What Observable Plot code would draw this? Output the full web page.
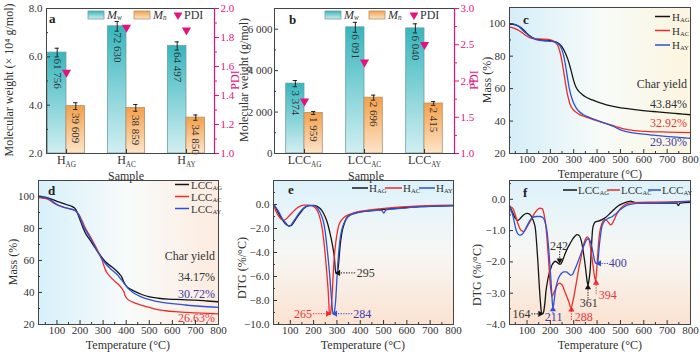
<!DOCTYPE html>
<html><head><meta charset="utf-8">
<script src="https://cdn.jsdelivr.net/npm/d3@7"></script>
<script src="https://cdn.jsdelivr.net/npm/@observablehq/plot@0.6"></script>
<style>
html,body{margin:0;padding:0;background:#fff;}
#wrap{position:relative;width:700px;height:352px;overflow:hidden;background:#fff;font-family:"Liberation Serif","Times New Roman",serif;}
#wrap > svg{position:absolute;overflow:visible;}
</style></head>
<body>
<svg width="0" height="0" style="position:absolute;left:0;top:0" aria-hidden="true"><defs>
<linearGradient id="gMw" x1="0" y1="0" x2="0" y2="1"><stop offset="0" stop-color="#36b6be"/><stop offset="1" stop-color="#d2eff2"/></linearGradient>
<linearGradient id="gMn" x1="0" y1="0" x2="0" y2="1"><stop offset="0" stop-color="#f4a048"/><stop offset="1" stop-color="#fde5ca"/></linearGradient>
<linearGradient id="bgC" x1="0" y1="0" x2="1" y2="0"><stop offset="0" stop-color="#d5eef9"/><stop offset="0.5" stop-color="#f7fbf8"/><stop offset="1" stop-color="#fcf5df"/></linearGradient>
<linearGradient id="bgD" x1="0" y1="0" x2="1" y2="0"><stop offset="0" stop-color="#d7f0fa"/><stop offset="0.5" stop-color="#f8fbfa"/><stop offset="1" stop-color="#fdebdf"/></linearGradient>
<linearGradient id="bgV" x1="0" y1="0" x2="0" y2="1"><stop offset="0" stop-color="#dcf2fb"/><stop offset="0.5" stop-color="#f7f7f4"/><stop offset="1" stop-color="#fbe2d1"/></linearGradient>
</defs></svg>
<div id="wrap"></div>
<script>
// ---------- DATA ----------
// Panel a
const samplesA = ["H_AG", "H_AC", "H_AY"];
const mwA = [6.1756, 7.2630, 6.4497];
const mnA = [3.9609, 3.8859, 3.4850];
const mwErrA = [0.18, 0.2, 0.17];
const mnErrA = [0.14, 0.14, 0.11];
const pdiA = [1.559, 1.869, 1.851];
const mwLabA = ["61 756", "72 630", "64 497"];
const mnLabA = ["39 609", "38 859", "34 850"];
// Panel b
const samplesB = ["LCC_AG", "LCC_AC", "LCC_AY"];
const mwB = [3374, 6091, 6040];
const mnB = [1959, 2696, 2415];
const mwErrB = [150, 240, 220];
const mnErrB = [70, 120, 90];
const pdiB = [1.722, 2.259, 2.501];
const mwLabB = ["3 374", "6 091", "6 040"];
const mnLabB = ["1 959", "2 696", "2 415"];
// Panel c (TG, H)
const tC_HAG = [25,40,64,90,107,136,170,207,236,250,264,275,286,300,310,320,335,350,380,407,440,479,530,579,640,693,750,800];
const mC_HAG = [99.8,99.6,98.5,95.5,93.0,90.6,90.0,89.4,87.8,85.8,82.0,78.0,72.6,64.8,60.8,58.6,56.6,55.0,53.0,51.5,50.0,48.8,47.6,46.7,45.9,45.2,44.5,43.9];
const tC_HAC = [25,40,60,79,100,121,150,193,221,235,243,250,257,264,271,279,286,296,307,325,350,390,436,480,520,560,607,700,800];
const mC_HAC = [97.9,97.5,96.2,94.5,92.3,91.0,90.6,90.4,88.6,85.5,81.5,76.5,70.5,64.0,58.0,53.0,49.8,47.3,45.7,44.0,42.6,40.6,38.6,36.6,35.0,34.1,33.6,33.2,32.9];
const tC_HAY = [25,45,64,85,107,136,170,207,236,248,258,267,274,281,290,300,310,321,340,364,400,436,470,500,540,579,640,693,750,800];
const mC_HAY = [100,99.8,98.5,95.5,92.8,90.3,89.5,89.1,87.3,84.5,79.5,72.5,66.0,60.2,55.0,51.0,48.3,46.2,44.0,42.4,40.5,38.6,36.7,34.6,33.0,32.2,31.3,30.6,30.0,29.4];
// Panel d (TG, LCC)
const tD_AG = [20,40,64,90,107,140,165,182,192,201,212,223,240,252,280,309,330,345,360,374,382,389,396,403,420,439,470,497,540,583,640,699,750,800];
const mD_AG = [100.2,99.8,99.0,97.6,96.6,95.0,93.8,91.8,88.5,85.0,80.8,77.2,73.5,70.9,64.8,59.4,56.8,55.2,53.3,51.0,49.3,46.8,45.0,43.7,42.0,40.5,38.6,37.4,36.4,35.9,35.6,35.2,34.7,34.2];
const tD_AC = [20,40,64,80,100,136,179,194,210,223,240,252,265,280,295,302,312,324,340,352,370,381,390,396,405,425,445,468,497,526,570,612,700,800];
const mD_AC = [99.3,98.9,98.1,96.5,94.8,93.0,91.2,89.0,84.5,80.3,76.0,73.0,69.5,65.2,60.5,57.3,53.5,51.0,48.5,46.8,44.5,42.6,40.5,37.8,36.0,34.2,33.0,32.0,30.8,29.6,28.6,28.0,27.3,26.7];
const tD_AY = [20,40,64,80,100,136,179,197,210,223,240,252,280,300,309,338,360,374,386,396,410,425,450,482,520,555,600,656,720,800];
const mD_AY = [100,99.5,98.7,97.0,95.0,93.0,91.3,87.6,83.0,79.3,75.2,72.0,64.6,60.0,58.3,54.1,51.3,48.9,46.8,44.7,42.3,40.5,38.3,36.3,34.8,33.8,33.0,32.2,31.4,30.7];
// Panel e (DTG, H)
const tE_HAG = [28,40,50,65,79,93,104,114,128,143,160,179,200,215,229,240,250,261,271,280,289,295,301,307,312,317,323,329,340,357,380,414,460,514,580,657,730,800];
const dE_HAG = [0.0,-0.35,-0.75,-1.25,-1.6,-1.8,-1.75,-1.5,-1.1,-0.7,-0.3,-0.1,-0.08,-0.15,-0.35,-0.65,-1.05,-1.65,-2.45,-3.3,-4.4,-5.7,-5.7,-5.0,-3.8,-2.9,-2.2,-1.75,-1.2,-0.88,-0.7,-0.58,-0.48,-0.38,-0.27,-0.18,-0.13,-0.1];
const tE_HAC = [28,35,43,55,64,72,79,90,100,115,129,145,160,180,193,205,214,222,229,236,243,249,254,259,263,266,268,271,274,278,283,288,293,300,307,318,329,350,371,405,443,480,514,580,657,730,800];
const dE_HAC = [-0.05,-0.4,-0.75,-1.1,-1.25,-1.3,-1.25,-1.05,-0.85,-0.55,-0.3,-0.12,-0.05,-0.05,-0.1,-0.25,-0.45,-0.8,-1.26,-1.9,-2.9,-4.0,-5.1,-6.3,-7.3,-8.5,-9.15,-9.15,-8.9,-8.0,-6.2,-4.6,-3.5,-2.5,-1.8,-1.35,-1.1,-0.85,-0.7,-0.55,-0.44,-0.36,-0.3,-0.2,-0.12,-0.08,-0.06];
const tE_HAY = [28,40,50,65,79,93,104,114,128,143,160,179,200,212,221,232,243,250,257,263,269,274,279,283,287,291,295,300,305,310,315,321,332,343,360,386,420,460,486,495,501,506,514,550,586,650,720,800];
const dE_HAY = [0.0,-0.3,-0.6,-1.15,-1.5,-1.78,-1.7,-1.4,-1.0,-0.6,-0.25,-0.1,-0.1,-0.2,-0.44,-0.85,-1.5,-2.3,-3.5,-4.6,-5.9,-7.2,-8.4,-9.1,-9.1,-8.7,-7.9,-6.2,-4.6,-3.5,-2.7,-2.1,-1.5,-1.1,-0.85,-0.7,-0.58,-0.5,-0.46,-0.55,-0.72,-0.55,-0.42,-0.36,-0.3,-0.2,-0.14,-0.1];
// Panel f (DTG, LCC)
const tF_AG = [25,36,50,60,70,85,100,112,121,130,136,142,147,152,157,162,166,171,176,181,187,193,200,207,214,221,230,238,244,250,260,271,282,293,305,314,322,329,336,343,349,354,358,361,365,371,376,381,387,393,405,421,436,450,465,479,497,514,530,543,560,579,620,680,740,748,755,800];
const dF_AG = [-0.2,-0.38,-0.6,-0.68,-0.62,-0.5,-0.45,-0.48,-0.58,-0.75,-0.95,-1.5,-2.05,-2.7,-3.25,-3.62,-3.66,-3.6,-3.35,-2.95,-2.65,-2.42,-2.25,-2.1,-2.02,-1.98,-2.02,-2.07,-2.07,-2.0,-1.8,-1.6,-1.45,-1.3,-1.18,-1.13,-1.15,-1.24,-1.45,-1.78,-2.1,-2.42,-2.65,-2.74,-2.6,-2.2,-1.5,-0.95,-0.78,-0.72,-0.7,-0.65,-0.58,-0.49,-0.38,-0.28,-0.18,-0.12,-0.08,-0.06,-0.1,-0.12,-0.12,-0.12,-0.12,-0.2,-0.12,-0.1];
const tF_AC = [25,32,40,50,62,75,86,100,114,128,142,155,165,172,180,186,192,198,203,207,214,221,229,238,245,252,262,271,280,286,290,295,301,307,315,322,329,338,345,352,359,366,372,378,384,390,394,398,403,408,414,422,430,440,450,458,465,475,486,500,518,536,580,650,720,800];
const dF_AC = [-0.45,-0.25,-0.3,-0.5,-0.8,-1.0,-1.03,-0.88,-0.7,-0.5,-0.35,-0.28,-0.3,-0.45,-0.8,-1.3,-1.9,-2.6,-2.95,-3.1,-3.0,-2.88,-2.75,-2.68,-2.7,-2.76,-2.95,-3.12,-3.3,-3.44,-3.45,-3.3,-3.1,-2.85,-2.5,-2.2,-1.95,-1.6,-1.38,-1.25,-1.2,-1.3,-1.55,-1.85,-2.2,-2.5,-2.6,-2.3,-1.75,-1.25,-0.95,-0.75,-0.65,-0.67,-0.75,-0.82,-0.78,-0.62,-0.45,-0.3,-0.18,-0.12,-0.1,-0.09,-0.08,-0.06];
const tF_AY = [25,32,42,52,60,70,79,90,100,112,125,140,155,168,178,186,193,200,205,209,212,216,221,228,236,246,257,268,279,288,295,301,307,318,329,340,350,358,364,370,376,383,390,396,402,406,410,414,420,429,445,464,482,500,518,536,570,650,720,800];
const dF_AY = [-0.25,-0.35,-0.6,-0.95,-1.1,-1.15,-1.12,-1.0,-0.85,-0.68,-0.58,-0.55,-0.55,-0.58,-0.75,-1.05,-1.6,-2.3,-2.9,-3.35,-3.45,-3.25,-2.95,-2.68,-2.5,-2.38,-2.32,-2.32,-2.38,-2.43,-2.4,-2.3,-2.2,-2.0,-1.78,-1.55,-1.36,-1.27,-1.26,-1.33,-1.47,-1.72,-1.98,-2.05,-2.06,-1.8,-1.45,-1.2,-0.9,-0.72,-0.62,-0.56,-0.45,-0.33,-0.23,-0.17,-0.13,-0.12,-0.1,-0.07];
// tick values
const tempMajor = [100,200,300,400,500,600,700,800];
const tempMinor = [50,150,250,350,450,550,650,750];

// ---------- STYLE ----------
const pink = "#e5127d";
const cBlack = "#151515", cRed = "#ee2b2b", cBlue = "#2d52d2";
const tBlack = "#333333", tRed = "#e8333a", tBlue = "#3a3ca8";
const axisGray = "#444";
const wrap = document.getElementById("wrap");

function base(w, h, m) {
  return {width: w, height: h, marginLeft: m[0], marginRight: m[1], marginTop: m[2], marginBottom: m[3],
    style: {background: "none", overflow: "visible", fontFamily: "'Liberation Serif', serif", fontSize: "11px", color: "#333"}};
}
function subify(root) {
  root.querySelectorAll("text").forEach(t => {
    if (t.children.length) return;
    const s = t.textContent;
    if (!s.includes("_")) return;
    const [a, b] = s.split("_");
    t.textContent = a;
    const ts = document.createElementNS("http://www.w3.org/2000/svg", "tspan");
    ts.setAttribute("font-size", "0.6em");
    ts.setAttribute("dy", "0.35em");
    ts.textContent = b;
    t.appendChild(ts);
  });
}
function place(svg, left, top) {
  svg.style.left = left + "px";
  svg.style.top = top + "px";
  wrap.appendChild(svg);
}

function barPanel(c) {
  const rows = c.samples.map((s, i) => ({i, s, mw: c.mw[i], mn: c.mn[i], mwE: c.mwErr[i], mnE: c.mnErr[i], pdi: c.pdi[i], mwL: c.mwLab[i], mnL: c.mnLab[i]}));
  const [y0, y1] = c.yDomain, [p0, p1] = c.pDomain;
  const mapP = p => y0 + (p - p0) / (p1 - p0) * (y1 - y0);
  const unmapP = y => p0 + (y - y0) / (y1 - y0) * (p1 - p0);
  const bw = c.bw, off = bw / 2, cap = 0.035;
  const errMarks = (key, eKey, dx) => [
    Plot.ruleX(rows, {x: d => d.i + dx, y1: d => d[key] - d[eKey], y2: d => d[key] + d[eKey], stroke: "#222", strokeWidth: 1}),
    Plot.ruleY(rows, {y: d => d[key] + d[eKey], x1: d => d.i + dx - cap, x2: d => d.i + dx + cap, stroke: "#222", strokeWidth: 1}),
    Plot.ruleY(rows, {y: d => d[key] - d[eKey], x1: d => d.i + dx - cap, x2: d => d.i + dx + cap, stroke: "#222", strokeWidth: 1})
  ];
  return Plot.plot({
    ...base(c.w, c.h, c.m),
    x: {domain: c.xDomain},
    y: {domain: c.yDomain},
    marks: [
      Plot.rect(rows, {x1: d => d.i - bw, x2: d => d.i, y1: d => y0, y2: "mw", fill: "url(#gMw)", stroke: "#6f9fa3", strokeWidth: 0.8}),
      Plot.rect(rows, {x1: d => d.i, x2: d => d.i + bw, y1: d => y0, y2: "mn", fill: "url(#gMn)", stroke: "#b5916f", strokeWidth: 0.8}),
      Plot.text(rows, {x: d => d.i - off, y: "mw", text: "mwL", rotate: 90, textAnchor: "start", dy: c.lblDy[0], fontSize: 11, fill: "#333"}),
      Plot.text(rows, {x: d => d.i + off, y: "mn", text: "mnL", rotate: 90, textAnchor: "start", dy: c.lblDy[1], fontSize: 11, fill: "#333"}),
      ...errMarks("mw", "mwE", -off),
      ...errMarks("mn", "mnE", off),
      Plot.dot(rows, {x: "i", y: d => mapP(d.pdi), symbol: "triangle", rotate: 180, r: 3.4, fill: pink, stroke: "none"}),
      Plot.axisX([0, 1, 2], {anchor: "bottom", tickSize: -4, tickPadding: 6, tickFormat: d => c.samples[d], label: null, fontSize: 12, color: "#333"}),
      Plot.axisY(c.yMajor, {anchor: "left", tickSize: -4, tickPadding: c.yPad, tickFormat: c.yFmt, label: null, fontSize: 11, color: "#333"}),
      Plot.axisY(c.yMinor, {anchor: "left", tickSize: -2, tickFormat: () => "", label: null, color: "#333"}),
      Plot.axisY(c.pMajor.map(mapP), {anchor: "right", tickSize: 4, tickPadding: 2, tickFormat: y => unmapP(y).toFixed(1), label: null, fontSize: 11, color: pink}),
      Plot.axisY(c.pMinor.map(mapP), {anchor: "right", tickSize: 2, tickFormat: () => "", label: null, color: pink}),
      Plot.frame({stroke: axisGray}),
      Plot.ruleX([c.xDomain[1]], {stroke: pink, strokeWidth: 1.2})
    ]
  });
}

function linePanel(c) {
  const texts = c.texts || [], arrows = c.arrows || [];
  return Plot.plot({
    ...base(c.w, c.h, c.m),
    x: {domain: c.xDomain},
    y: {domain: c.yDomain},
    color: {type: "identity"},
    marks: [
      Plot.frame({fill: `url(#${c.bg})`, stroke: "none"}),
      ...c.series.map(s => Plot.line(s.t.map((t, i) => ({t, v: s.v[i]})), {x: "t", y: "v", stroke: s.color, strokeWidth: 1.3, curve: "monotone-x"})),
      Plot.link(arrows, {x1: "x1", y1: "y1", x2: "x2", y2: "y2", stroke: "color", strokeWidth: 1, strokeDasharray: "1.3,1.3"}),
      Plot.dot(arrows, {x: "x2", y: "y2", symbol: "triangle", rotate: "rot", r: 2.3, fill: "color", stroke: "none"}),
      ...["start", "middle", "end"].map(a => Plot.text(texts.filter(d => d.anchor === a), {x: "x", y: "y", text: "text", fill: "color", textAnchor: a, fontSize: 12})),
      Plot.axisX(tempMajor, {anchor: "bottom", tickSize: -4, tickPadding: 6, tickFormat: d => String(d), label: null, fontSize: 11, color: "#333"}),
      Plot.axisX(tempMinor, {anchor: "bottom", tickSize: -2, tickFormat: () => "", label: null, color: "#333"}),
      Plot.axisY(c.yMajor, {anchor: "left", tickSize: -4, tickPadding: 8, tickFormat: c.yFmt, label: null, fontSize: 11, color: "#333"}),
      Plot.axisY(c.yMinor, {anchor: "left", tickSize: -2, tickFormat: () => "", label: null, color: "#333"}),
      Plot.frame({stroke: axisGray})
    ]
  });
}

const fmt1 = d => d.toFixed(1);
const fmtK = d => d === 0 ? "0" : d3.format(",")(d).replace(",", " ");
const fmtNeg = d => d === 0 ? "0.0" : "\u2212" + Math.abs(d).toFixed(1);

// a
place(barPanel({w: 240, h: 180, m: [46, 26, 8, 27], samples: samplesA, mw: mwA, mn: mnA, mwErr: mwErrA, mnErr: mnErrA, pdi: pdiA, mwLab: mwLabA, mnLab: mnLabA,
  xDomain: [-0.333, 2.467], bw: 0.31, yDomain: [2, 8], yMajor: [2, 4, 6, 8], yMinor: [3, 5, 7], yFmt: fmt1, yPad: 8,
  pDomain: [1, 2], pMajor: [1, 1.2, 1.4, 1.6, 1.8, 2.0], pMinor: [1.1, 1.3, 1.5, 1.7, 1.9], lblDy: [6, 7]}), 0, 0);
// b
place(barPanel({w: 240, h: 180, m: [34, 26, 8, 27], samples: samplesB, mw: mwB, mn: mnB, mwErr: mwErrB, mnErr: mnErrB, pdi: pdiB, mwLab: mwLabB, mnLab: mnLabB,
  xDomain: [-0.5, 2.5], bw: 0.305, yDomain: [0, 7000], yMajor: [0, 2000, 4000, 6000], yMinor: [1000, 3000, 5000], yFmt: fmtK, yPad: 6,
  pDomain: [1, 3], pMajor: [1, 1.5, 2, 2.5, 3], pMinor: [1.25, 1.75, 2.25, 2.75], lblDy: [7, 4]}), 240, 0);
// c
place(linePanel({w: 230, h: 180, m: [39, 10, 7, 27], xDomain: [25, 800], yDomain: [20, 110], bg: "bgC",
  yMajor: [20, 40, 60, 80, 100], yMinor: [30, 50, 70, 90], yFmt: d => String(d),
  series: [{t: tC_HAG, v: mC_HAG, color: cBlack}, {t: tC_HAC, v: mC_HAC, color: cRed}, {t: tC_HAY, v: mC_HAY, color: cBlue}],
  texts: [
    {x: 785, y: 63, text: "Char yield", color: tBlack, anchor: "end"},
    {x: 785, y: 50.5, text: "43.84%", color: tBlack, anchor: "end"},
    {x: 785, y: 38.5, text: "32.92%", color: tRed, anchor: "end"},
    {x: 785, y: 27, text: "29.30%", color: tBlue, anchor: "end"}]}), 470, 0);
// d
place(linePanel({w: 235, h: 177, m: [38, 17, 5, 28], xDomain: [20, 800], yDomain: [20, 110], bg: "bgD",
  yMajor: [20, 40, 60, 80, 100], yMinor: [30, 50, 70, 90], yFmt: d => String(d),
  series: [{t: tD_AG, v: mD_AG, color: cBlack}, {t: tD_AC, v: mD_AC, color: cRed}, {t: tD_AY, v: mD_AY, color: cBlue}],
  texts: [
    {x: 785, y: 62.5, text: "Char yield", color: tBlack, anchor: "end"},
    {x: 785, y: 49.5, text: "34.17%", color: tBlack, anchor: "end"},
    {x: 785, y: 38.8, text: "30.72%", color: tBlue, anchor: "end"},
    {x: 785, y: 24.2, text: "26.63%", color: tRed, anchor: "end"}]}), 0, 175);
// e
place(linePanel({w: 230, h: 177, m: [38, 12, 5, 28], xDomain: [28, 800], yDomain: [-10, 2], bg: "bgV",
  yMajor: [-10, -8, -6, -4, -2, 0], yMinor: [-9, -7, -5, -3, -1, 1], yFmt: fmtNeg,
  series: [{t: tE_HAG, v: dE_HAG, color: cBlack}, {t: tE_HAC, v: dE_HAC, color: cRed}, {t: tE_HAY, v: dE_HAY, color: cBlue}],
  arrows: [
    {x1: 378, y1: -5.7, x2: 306, y2: -5.7, rot: 270, color: cBlack},
    {x1: 197, y1: -9.1, x2: 261, y2: -9.1, rot: 90, color: cRed},
    {x1: 366, y1: -9.1, x2: 293, y2: -9.1, rot: 270, color: cBlue}],
  texts: [
    {x: 385, y: -5.7, text: "295", color: tBlack, anchor: "start"},
    {x: 193, y: -9.1, text: "265", color: tRed, anchor: "end"},
    {x: 370, y: -9.1, text: "284", color: tBlue, anchor: "start"}]}), 235, 175);
// f
place(linePanel({w: 235, h: 177, m: [44, 10, 5, 28], xDomain: [25, 800], yDomain: [-4, 0.6], bg: "bgV",
  yMajor: [-4, -3, -2, -1, 0], yMinor: [-3.5, -2.5, -1.5, -0.5, 0.5], yFmt: fmtNeg,
  series: [{t: tF_AG, v: dF_AG, color: cBlack}, {t: tF_AC, v: dF_AC, color: cRed}, {t: tF_AY, v: dF_AY, color: cBlue}],
  arrows: [
    {x1: 119, y1: -3.66, x2: 156, y2: -3.66, rot: 90, color: cBlack},
    {x1: 240, y1: -1.66, x2: 240, y2: -1.95, rot: 180, color: cBlack},
    {x1: 211, y1: -3.64, x2: 211, y2: -3.52, rot: 0, color: cBlue},
    {x1: 290, y1: -3.85, x2: 290, y2: -3.53, rot: 0, color: cRed},
    {x1: 361, y1: -3.17, x2: 361, y2: -2.82, rot: 0, color: cBlack},
    {x1: 396, y1: -3.02, x2: 396, y2: -2.67, rot: 0, color: cRed},
    {x1: 447, y1: -2.05, x2: 409, y2: -2.05, rot: 270, color: cBlue}],
  texts: [
    {x: 115, y: -3.66, text: "164", color: tBlack, anchor: "end"},
    {x: 237, y: -1.5, text: "242", color: tBlack, anchor: "middle"},
    {x: 214, y: -3.75, text: "211", color: tBlue, anchor: "middle"},
    {x: 304, y: -3.75, text: "288", color: tRed, anchor: "start"},
    {x: 364, y: -3.33, text: "361", color: tBlack, anchor: "middle"},
    {x: 407, y: -3.06, text: "394", color: tRed, anchor: "start"},
    {x: 450, y: -2.05, text: "400", color: tBlue, anchor: "start"}]}), 465, 175);

// ---------- OVERLAY: titles, legends, panel letters ----------
const ov = d3.select(wrap).append("svg").attr("width", 700).attr("height", 352)
  .style("left", "0px").style("top", "0px").style("font-family", "'Liberation Serif', serif");
function txt(x, y, s, o = {}) {
  const t = ov.append("text").attr("x", x).attr("y", y).attr("font-size", o.size || 12)
    .attr("fill", o.color || "#333").attr("text-anchor", o.anchor || "start")
    .attr("dominant-baseline", "central").text(s);
  if (o.rot) t.attr("transform", `rotate(${o.rot},${x},${y})`);
  if (o.bold) t.attr("font-weight", "bold");
  if (o.italic) t.attr("font-style", "italic");
  return t;
}
const titles = [
  ["Molecular weight (\u00d7 10\u2074 g/mol)", 9, 80, -90, "#333"],
  ["PDI", 234.5, 80, -90, pink],
  ["Sample", 126, 175.5, 0, "#333"],
  ["Molecular weight (g/mol)", 243.5, 80, -90, "#333"],
  ["PDI", 474, 80, -90, pink],
  ["Sample", 366, 175.5, 0, "#333"],
  ["Mass (%)", 487, 80, -90, "#333"],
  ["Temperature (\u00b0C)", 600, 174, 0, "#333"],
  ["Mass (%)", 13, 262, -90, "#333"],
  ["Temperature (\u00b0C)", 128, 345, 0, "#333"],
  ["DTG (%/\u00b0C)", 242, 268, -90, "#333"],
  ["Temperature (\u00b0C)", 363, 345, 0, "#333"],
  ["DTG (%/\u00b0C)", 477, 275, -90, "#333"],
  ["Temperature (\u00b0C)", 600, 345, 0, "#333"]
];
titles.forEach(([s, x, y, r, col]) => txt(x, y, s, {anchor: "middle", rot: r, color: col, size: 12}));

// panel letters
[["a", 49, 18], ["b", 289, 19], ["c", 523, 19], ["d", 48, 190], ["e", 288, 189], ["f", 523, 192]]
  .forEach(([s, x, y]) => txt(x, y, s, {bold: true, size: 13, color: "#222"}));

// bar legends
function barLegend(x0, xs) {
  ov.append("rect").attr("x", x0).attr("y", 11).attr("width", 16).attr("height", 8).attr("fill", "url(#gMw)").attr("stroke", "#6f9fa3").attr("stroke-width", 0.8);
  txt(x0 + 19, 15, "M_w", {italic: true, size: 12});
  ov.append("rect").attr("x", xs[0]).attr("y", 11).attr("width", 16).attr("height", 8).attr("fill", "url(#gMn)").attr("stroke", "#b5916f").attr("stroke-width", 0.8);
  txt(xs[0] + 19, 15, "M_n", {italic: true, size: 12});
  ov.append("path").attr("d", d3.symbol(d3.symbolTriangle, 34)()).attr("transform", `translate(${xs[1]},15) rotate(180)`).attr("fill", pink);
  txt(xs[1] + 6, 15, "PDI", {size: 12});
}
barLegend(88, [134, 178]);
barLegend(325, [369, 414]);

// line legends
function lineLegendV(x1, x2, ys, labels) {
  const cols = [cBlack, cRed, cBlue];
  ys.forEach((y, i) => {
    ov.append("line").attr("x1", x1).attr("x2", x2).attr("y1", y).attr("y2", y).attr("stroke", cols[i]).attr("stroke-width", 1.5);
    txt(x2 + 2, y, labels[i], {size: 11});
  });
}
lineLegendV(655, 670, [16.5, 30.5, 45], ["H_AG", "H_AC", "H_AY"]);
lineLegendV(175, 189, [184.5, 196.5, 208.5], ["LCC_AG", "LCC_AC", "LCC_AY"]);
function lineLegendH(y, segs, labels) {
  const cols = [cBlack, cRed, cBlue];
  segs.forEach(([a, b], i) => {
    ov.append("line").attr("x1", a).attr("x2", b).attr("y1", y).attr("y2", y).attr("stroke", cols[i]).attr("stroke-width", 1.5);
    txt(b + 1, y, labels[i], {size: 11});
  });
}
lineLegendH(188, [[352, 368], [385, 402], [419, 435]], ["H_AG", "H_AC", "H_AY"]);
lineLegendH(190, [[563, 577], [607, 620], [648, 661]], ["LCC_AG", "LCC_AC", "LCC_AY"]);

subify(wrap);
</script>
</body></html>
